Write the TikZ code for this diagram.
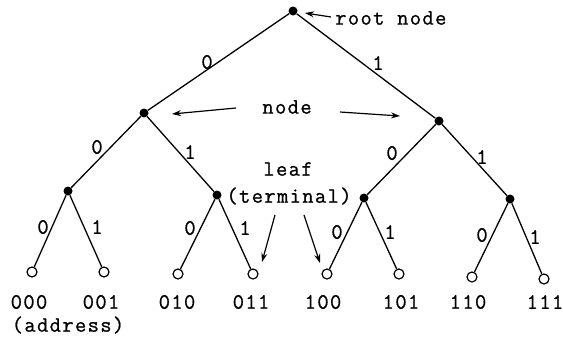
\documentclass[tikz,border=0pt]{standalone}
\usepackage{fontspec}
\setmonofont{Latin Modern Mono}[LetterSpace=6,FakeBold=0.8]
\usetikzlibrary{arrows.meta}
\begin{document}
\begin{tikzpicture}[x=1pt,y=-1pt,
  inner/.style={circle,fill=black,inner sep=0pt,minimum size=9pt},
  leaf/.style={circle,draw=black,fill=white,line width=1.2pt,inner sep=0pt,minimum size=10pt},
  edge/.style={line width=1.3pt},
  lbl/.style={font=\fontsize{22}{24}\ttfamily,inner sep=0pt},
  ptr/.style={line width=1.2pt,-{Stealth[length=9pt,width=6pt]}}]
\useasboundingbox (0,0) rectangle (563,338);
% nodes
\node[inner] (r) at (293,11) {};
\node[inner] (a) at (144,113) {};
\node[inner] (b) at (439,121) {};
\node[inner] (aa) at (68,191) {};
\node[inner] (ab) at (217,195) {};
\node[inner] (ba) at (364,198) {};
\node[inner] (bb) at (510,199) {};
\node[leaf] (l0) at (32,272) {};
\node[leaf] (l1) at (104,272) {};
\node[leaf] (l2) at (178,274) {};
\node[leaf] (l3) at (253,274) {};
\node[leaf] (l4) at (327,274) {};
\node[leaf] (l5) at (399,274) {};
\node[leaf] (l6) at (472,277) {};
\node[leaf] (l7) at (544,279) {};
% edges
\draw[edge] (r) -- (a);
\draw[edge] (r) -- (b);
\draw[edge] (a) -- (aa);
\draw[edge] (a) -- (ab);
\draw[edge] (b) -- (ba);
\draw[edge] (b) -- (bb);
\draw[edge] (aa) -- (l0);
\draw[edge] (aa) -- (l1);
\draw[edge] (ab) -- (l2);
\draw[edge] (ab) -- (l3);
\draw[edge] (ba) -- (l4);
\draw[edge] (ba) -- (l5);
\draw[edge] (bb) -- (l6);
\draw[edge] (bb) -- (l7);
% edge labels
\node[lbl] (e1) at (207,62) {0};
\node[lbl] (e2) at (378,63) {1};
\node[lbl] (e3) at (97,147) {0};
\node[lbl] (e4) at (190,152) {1};
\node[lbl] (e5) at (392,153) {0};
\node[lbl] (e6) at (482,157) {1};
\node[lbl] (e7) at (43,227) {0};
\node[lbl] (e8) at (97,227) {1};
\node[lbl] (e9) at (190,228) {0};
\node[lbl] (e10) at (245,228) {1};
\node[lbl] (e11) at (337,232) {0};
\node[lbl] (e12) at (390,232) {1};
\node[lbl] (e13) at (482,235) {0};
\node[lbl] (e14) at (535,237) {1};
% leaf addresses
\node[lbl] (t0) at (29,302) {000};
\node[lbl] (t1) at (101,302) {001};
\node[lbl] (t2) at (177,302) {010};
\node[lbl] (t3) at (251,302) {011};
\node[lbl] (t4) at (323,302) {100};
\node[lbl] (t5) at (401,302) {101};
\node[lbl] (t6) at (468,302) {110};
\node[lbl] (t7) at (545,302) {111};
\node[lbl] (addr) at (68,325) {(address)};
% annotations
\node[lbl,anchor=west] (rootlbl) at (335,18) {root node};
\node[lbl] (nodelbl) at (287,107) {node};
\node[lbl] (leaflbl) at (288,169) {leaf};
\node[lbl] (termlbl) at (289,196) {(terminal)};
\coordinate (rt) at (331,17);
\coordinate (nl) at (236,108);
\coordinate (nr) at (340,112);
\coordinate (ll) at (275,215);
\coordinate (lr) at (304,215);
\draw[ptr] (rt) -- (305,13) coordinate (rh);
\draw[ptr] (nl) -- (172,114) coordinate (nlh);
\draw[ptr] (nr) -- (400,116) coordinate (nrh);
\draw[ptr] (ll) -- (262,262) coordinate (llh);
\draw[ptr] (lr) -- (320,263) coordinate (lrh);
\end{tikzpicture}
\end{document}
